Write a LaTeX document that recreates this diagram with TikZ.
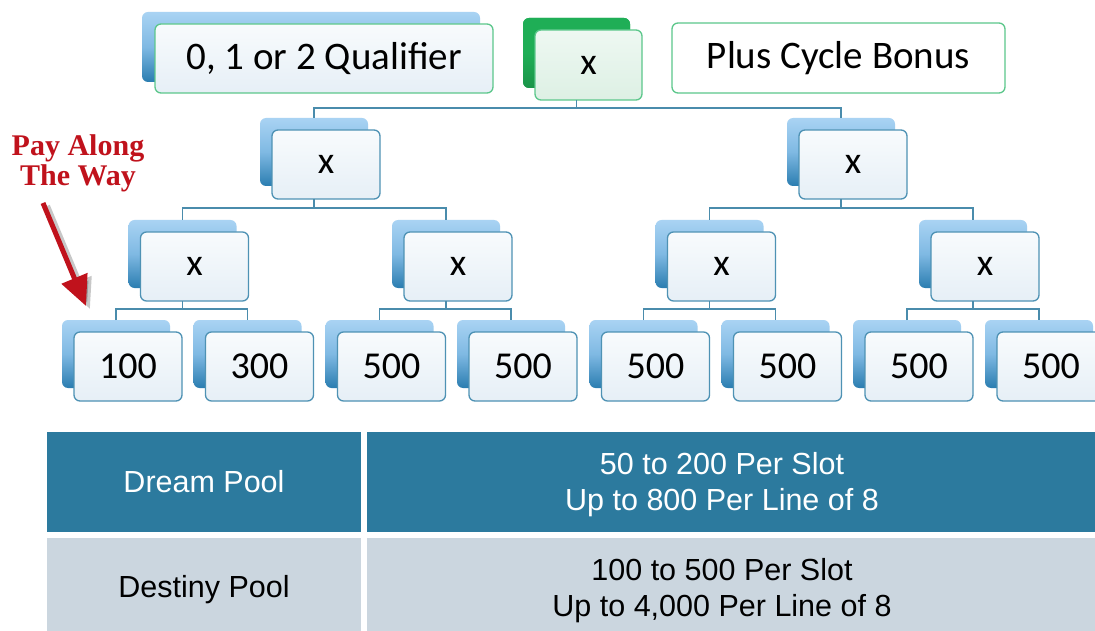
\documentclass[tikz,border=0pt]{standalone}
\usepackage{fontspec}
\usetikzlibrary{arrows.meta}
\newfontfamily\gillf{Carlito}
\newfontfamily\arialf{Liberation Sans}
\newfontfamily\timesf{Liberation Serif}
\definecolor{backtop}{HTML}{A9D3F3}
\definecolor{backmid}{HTML}{7FB9E3}
\definecolor{backbot}{HTML}{2A7DB0}
\definecolor{frontline}{HTML}{4E92B4}
\definecolor{fronttop}{HTML}{F8FBFD}
\definecolor{frontbot}{HTML}{E6EFF6}
\definecolor{conncol}{HTML}{4A8CAC}
\definecolor{greenline}{HTML}{5CC78B}
\definecolor{greenback}{HTML}{1FAE56}
\definecolor{greentop}{HTML}{EEF8F2}
\definecolor{greenbot}{HTML}{DDF0E4}
\definecolor{rowone}{HTML}{2C7A9E}
\definecolor{rowtwo}{HTML}{CBD6DF}
\definecolor{payred}{HTML}{C0121C}
\tikzset{
  backbox/.style={rounded corners=6pt, minimum width=108pt, minimum height=68pt,
    inner sep=0pt, outer sep=0pt, anchor=north west,
    top color=backtop, bottom color=backbot, middle color=backmid},
  frontbox/.style={rounded corners=6pt, minimum width=108pt, minimum height=69pt,
    inner sep=0pt, outer sep=0pt, anchor=north west, draw=frontline, line width=1.3pt,
    top color=fronttop, bottom color=frontbot, text=black,
    font=\gillf\fontsize{38}{40}\selectfont},
  conn/.style={draw=conncol, line width=1.4pt},
  cell/.style={anchor=north west, inner sep=0pt, outer sep=0pt},
  celltext/.style={font=\arialf\fontsize{30.5}{36}\selectfont, align=center, inner sep=0pt},
}
\newcommand\mkduo[4]{%
  \node[backbox] (b#1) at (#2,#3) {};
  \node[frontbox] (f#1) at (#2+12,#3+12) {#4};}
\begin{document}
\begin{tikzpicture}[x=1pt,y=-1pt]
\useasboundingbox (0,0) rectangle (1095,631);
\fill[white] (0,0) rectangle (1095,631);
% top row
\node[backbox, minimum width=338pt, minimum height=70pt] (bQ) at (142,12) {};
\node[frontbox, minimum width=338pt, draw=greenline, top color=fronttop, bottom color=frontbot,
  font=\gillf\fontsize{39}{40}\selectfont] (fQ) at (155,24) {0, 1 or 2 Qualifier};
\node[backbox, minimum width=107pt, minimum height=70pt, fill=greenback, top color=greenback,
  bottom color=greenback!85!black, middle color=greenback] (bT) at (523,18) {};
\node[frontbox, minimum width=107pt, minimum height=70pt, draw=greenline,
  top color=greentop, bottom color=greenbot] (fT) at (535,30) {x};
\node[frontbox, minimum width=333pt, minimum height=70pt, draw=greenline,
  top color=white, bottom color=white, font=\gillf\fontsize{39}{40}\selectfont] (fP) at (672,23) {Plus Cycle Bonus};
% level 2
\mkduo{La}{260}{118}{x}
\mkduo{Lb}{787}{118}{x}
% level 3
\mkduo{Ma}{128.5}{220}{x}
\mkduo{Mb}{392}{220}{x}
\mkduo{Mc}{655.5}{220}{x}
\mkduo{Md}{919}{220}{x}
% level 4
\mkduo{Na}{62}{320}{100}
\mkduo{Nb}{193.5}{320}{300}
\mkduo{Nc}{325.5}{320}{500}
\mkduo{Nd}{457}{320}{500}
\mkduo{Ne}{589.5}{320}{500}
\mkduo{Nf}{721.5}{320}{500}
\mkduo{Ng}{853}{320}{500}
\mkduo{Nh}{985}{320}{500}
% connectors
\draw[conn] (fT.south -| bT.center) -- ++(0,8) coordinate (jT);
\draw[conn] (bLa.north) |- (jT) -| (bLb.north);
\draw[conn] (fLa.south -| bLa.center) -- ++(0,9) coordinate (jLa);
\draw[conn] (bMa.north) |- (jLa) -| (bMb.north);
\draw[conn] (fLb.south -| bLb.center) -- ++(0,9) coordinate (jLb);
\draw[conn] (bMc.north) |- (jLb) -| (bMd.north);
\draw[conn] (fMa.south -| bMa.center) -- ++(0,8) coordinate (jMa);
\draw[conn] (bNa.north) |- (jMa) -| (bNb.north);
\draw[conn] (fMb.south -| bMb.center) -- ++(0,8) coordinate (jMb);
\draw[conn] (bNc.north) |- (jMb) -| (bNd.north);
\draw[conn] (fMc.south -| bMc.center) -- ++(0,8) coordinate (jMc);
\draw[conn] (bNe.north) |- (jMc) -| (bNf.north);
\draw[conn] (fMd.south -| bMd.center) -- ++(0,8) coordinate (jMd);
\draw[conn] (bNg.north) |- (jMd) -| (bNh.north);
% pay along the way
\node[text=payred, font=\timesf\bfseries\fontsize{30}{30}\selectfont, align=center, inner sep=0pt]
  (pay) at (78,163) {Pay Along\\The Way};
\coordinate (as) at (43,203);
\coordinate (ae) at (86,306);
\coordinate (ass) at (47,206);
\coordinate (aes) at (90,309);
\draw[black, opacity=0.22, line width=6pt, -{Triangle[length=30pt,width=27pt]}] (ass) -- (aes);
\draw[payred, line width=5pt, -{Triangle[length=30pt,width=27pt]}] (as) -- (ae);
% table
\node[cell, fill=rowone, minimum width=314pt, minimum height=100pt] (c11) at (47,432) {};
\node[cell, fill=rowone, minimum width=728pt, minimum height=100pt] (c12) at (367,432) {};
\node[cell, fill=rowtwo, minimum width=314pt, minimum height=93pt] (c21) at (47,538) {};
\node[cell, fill=rowtwo, minimum width=728pt, minimum height=93pt] (c22) at (367,538) {};
\node[celltext, text=white] (t11) at (c11.center) {Dream Pool};
\node[celltext, text=white] (t12) at (722,485) {50 to 200 Per Slot\\Up to 800 Per Line of 8};
\node[celltext, text=black] (t21) at (204,590) {Destiny Pool};
\node[celltext, text=black] (t22) at (722,590.5) {100 to 500 Per Slot\\Up to 4,000 Per Line of 8};
\end{tikzpicture}
\end{document}
